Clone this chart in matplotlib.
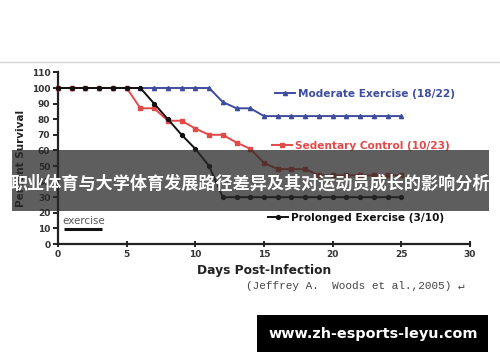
import matplotlib
matplotlib.use("Agg")
import matplotlib.pyplot as plt
from matplotlib.patches import Rectangle
from matplotlib.lines import Line2D

days = [0, 1, 2, 3, 4, 5, 6, 7, 8, 9, 10, 11, 12, 13, 14, 15, 16, 17, 18, 19, 20, 21, 22, 23, 24, 25]
moderate = [100, 100, 100, 100, 100, 100, 100, 100, 100, 100, 100, 100, 91, 87, 87, 82, 82, 82, 82, 82, 82, 82, 82, 82, 82, 82]
sedentary = [100, 100, 100, 100, 100, 100, 87, 87, 79, 79, 74, 70, 70, 65, 61, 52, 48, 48, 48, 44, 44, 44, 44, 44, 44, 44]
prolonged = [100, 100, 100, 100, 100, 100, 100, 90, 80, 70, 61, 50, 30, 30, 30, 30, 30, 30, 30, 30, 30, 30, 30, 30, 30, 30]
exercise_days = [0.45, 3.2]
exercise_level = [9.6, 9.6]

labels = ["Moderate Exercise (18/22)", "Sedentary Control (10/23)", "Prolonged Exercise (3/10)"]
x_ticks = [0, 5, 10, 15, 20, 25, 30]
y_ticks = [0, 10, 20, 30, 40, 50, 60, 70, 80, 90, 100, 110]
title = "职业体育与大学体育发展路径差异及其对运动员成长的影响分析"
site = "www.zh-esports-leyu.com"
citation = "(Jeffrey A.  Woods et al.,2005) \u21b5"

W, H = 500, 362
fig = plt.figure(figsize=(W / 100, H / 100), dpi=100)
fig.patch.set_facecolor("white")

def fx(px):
    return px / W

def fy(py):
    return 1 - py / H

ax = fig.add_axes([fx(58), fy(244), fx(470) - fx(58), fy(72.4) - fy(244)])
ax.set_xlim(0, 30)
ax.set_ylim(0, 110)
for s in ["top", "right"]:
    ax.spines[s].set_visible(False)
for s in ["left", "bottom"]:
    ax.spines[s].set_linewidth(1.6)
    ax.spines[s].set_color("#222222")

blue = "#3d4c9e"
red = "#e24a4a"
black = "#111111"

l_mod, = ax.plot(days, moderate, color=blue, lw=1.4, marker="^", ms=3.0, clip_on=False, zorder=3)
l_sed, = ax.plot(days, sedentary, color=red, lw=1.4, marker="s", ms=2.4, clip_on=False, zorder=4)
l_pro, = ax.plot(days, prolonged, color=black, lw=1.4, marker="o", ms=2.8, clip_on=False, zorder=5)
ax.plot(exercise_days, exercise_level, color=black, lw=2.2, solid_capstyle="butt")
ax.text(0.3, 11.5, "exercise", fontsize=7.4, color="#555555", va="bottom", ha="left")

ax.set_xticks(x_ticks)
ax.set_yticks(y_ticks)
ax.tick_params(axis="both", labelsize=6.5, colors="#222222", width=1.4, length=3.5, pad=2)
ax.tick_params(axis="x", direction="inout", length=4)
for t in ax.get_xticklabels() + ax.get_yticklabels():
    t.set_fontweight("bold")
    t.set_color("#333333")

ax.set_xlabel("Days Post-Infection", fontsize=8.8, fontweight="bold", color="#222222", labelpad=4)
ax.set_ylabel("Percent Survival", fontsize=7.5, fontweight="bold", color="#222222", labelpad=4)

def add_leg(handle, label, color, px, py):
    lg = fig.legend([handle], [label], loc="center left", bbox_to_anchor=(fx(px), fy(py)),
                    frameon=False, handlelength=1.9, handletextpad=0.3,
                    borderpad=0, borderaxespad=0, prop={"weight": "bold", "size": 7.6})
    for t in lg.get_texts():
        t.set_color(color)
    return lg

add_leg(l_mod, labels[0], blue, 275, 94)
add_leg(l_sed, labels[1], red, 272, 146)
add_leg(l_pro, labels[2], black, 268, 217.5)

fig.text(fx(246), fy(286), citation, fontsize=7.9, color="#444444",
         family=["Liberation Mono", "DejaVu Sans Mono"], va="center", ha="left")

# top thin border line
fig.add_artist(Line2D([0, 1], [fy(62), fy(62)], transform=fig.transFigure, color="#d6d6d6", lw=1))

# translucent title band
fig.add_artist(Rectangle((fx(12), fy(211)), fx(489) - fx(12), fy(150) - fy(211),
                         transform=fig.transFigure, facecolor="#282828", alpha=0.75,
                         edgecolor="none", zorder=10))
fig.text(fx(250), fy(184), title, fontsize=12.3, fontweight="bold", color="white",
         family=["Noto Sans CJK SC", "DejaVu Sans"], ha="center", va="center", zorder=11)

# website box
fig.add_artist(Rectangle((fx(257), fy(352)), fx(488) - fx(257), fy(315) - fy(352),
                         transform=fig.transFigure, facecolor="black", edgecolor="none", zorder=10))
fig.text(fx(373), fy(334), site, fontsize=10.4, fontweight="bold", color="white",
         family=["DejaVu Sans"], ha="center", va="center", zorder=11)

fig.savefig("out.png", dpi=100)
